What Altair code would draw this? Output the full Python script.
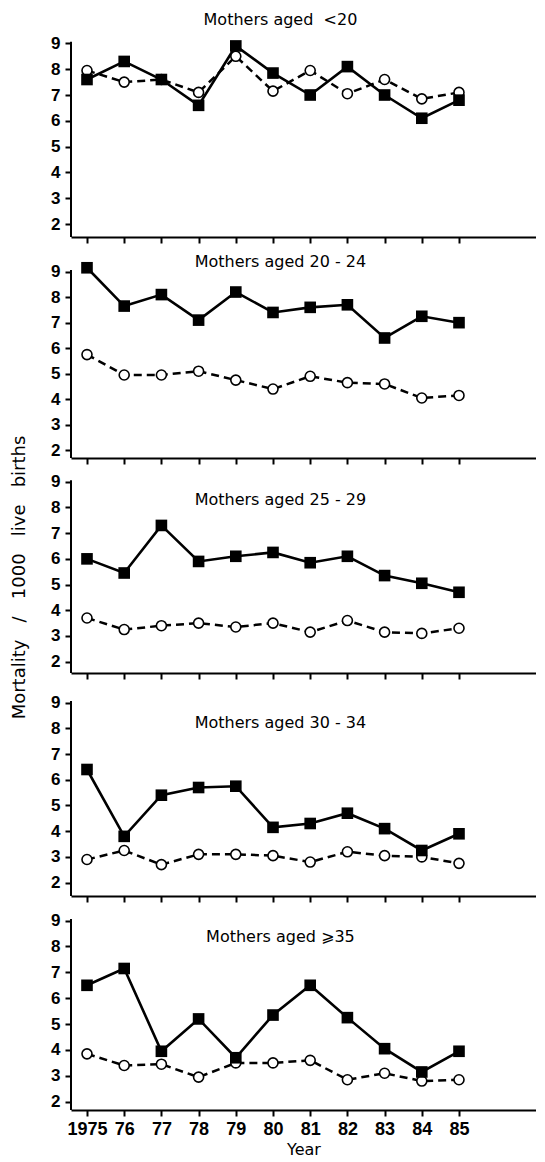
import altair as alt
import pandas as pd

# ---------------- data ----------------
years = list(range(1975, 1986))
year_labels = ["1975", "76", "77", "78", "79", "80", "81", "82", "83", "84", "85"]
y_ticks = [2, 3, 4, 5, 6, 7, 8, 9]

NB = "\u00a0"
panel_titles = [
    "Mothers aged" + NB + NB + "<20",
    "Mothers aged 20 - 24",
    "Mothers aged 25 - 29",
    "Mothers aged 30 - 34",
    "Mothers aged \u2a7e35",
]
y_title = (NB * 3).join(["Mortality", "/", "1000", "live", "births"])

# filled squares (solid line)
sq_lt20 = [7.6, 8.3, 7.6, 6.6, 8.9, 7.85, 7.0, 8.1, 7.0, 6.1, 6.8]
sq_20_24 = [9.15, 7.65, 8.1, 7.1, 8.2, 7.4, 7.6, 7.7, 6.4, 7.25, 7.0]
sq_25_29 = [6.0, 5.45, 7.3, 5.9, 6.1, 6.25, 5.85, 6.1, 5.35, 5.05, 4.7]
sq_30_34 = [6.4, 3.8, 5.4, 5.7, 5.75, 4.15, 4.3, 4.7, 4.1, 3.25, 3.9]
sq_ge35 = [6.5, 7.15, 3.95, 5.2, 3.7, 5.35, 6.5, 5.25, 4.05, 3.15, 3.95]

# open circles (dashed line)
ci_lt20 = [7.95, 7.5, 7.6, 7.1, 8.5, 7.15, 7.95, 7.05, 7.6, 6.85, 7.1]
ci_20_24 = [5.75, 4.95, 4.95, 5.1, 4.75, 4.4, 4.9, 4.65, 4.6, 4.05, 4.15]
ci_25_29 = [3.7, 3.25, 3.4, 3.5, 3.35, 3.5, 3.15, 3.6, 3.15, 3.1, 3.3]
ci_30_34 = [2.9, 3.25, 2.7, 3.1, 3.1, 3.05, 2.8, 3.2, 3.05, 3.0, 2.75]
ci_ge35 = [3.85, 3.4, 3.45, 2.95, 3.5, 3.5, 3.6, 2.85, 3.1, 2.8, 2.85]

squares = [sq_lt20, sq_20_24, sq_25_29, sq_30_34, sq_ge35]
circles = [ci_lt20, ci_20_24, ci_25_29, ci_30_34, ci_ge35]

# ---------------- layout (not data) ----------------
y_lo = [1.50, 1.70, 1.56, 1.48, 1.68]
y_hi = [10.37, 10.12, 9.69, 9.92, 9.72]
heights = [229, 215, 209, 217, 208]
title_y = [9.90, 9.38, 8.29, 8.21, 8.37]
axis_top = 9.06
x_lo, x_hi = 1974.57, 1987.07
title_x = 1980.2
PLOT_W = 465

TXT = "DejaVu Sans"
NUM = "Liberation Sans"

label_expr = "[" + ",".join("'%s'" % s for s in year_labels) + "][datum.value - %d]" % years[0]


def panel(i):
    last = i == len(squares) - 1
    df = pd.DataFrame({
        "year": years + years,
        "value": squares[i] + circles[i],
        "series": ["sq"] * len(years) + ["ci"] * len(years),
    })
    x_axis = alt.Axis(
        values=years, labels=last, labelExpr=label_expr, grid=False,
        domain=True, domainColor="black", domainWidth=2,
        ticks=True, tickColor="black", tickWidth=2, tickSize=6,
        labelFont=NUM, labelFontWeight="bold", labelFontSize=18, labelColor="black",
        labelPadding=4, labelFlush=False, labelOverlap=False,
        title="Year" if last else None, titleFont=TXT, titleFontWeight="normal",
        titleFontSize=16, titleColor="black", titlePadding=3,
    )
    y_kw = dict(
        values=y_ticks, tickCount=8, grid=False, domain=False,
        ticks=True, tickColor="black", tickWidth=2, tickSize=6,
        labelFont=NUM, labelFontWeight="bold", labelFontSize=17, labelColor="black",
        labelPadding=5, labelFlush=False, labelOverlap=False,
    )
    if i == 2:
        y_axis = alt.Axis(title=y_title, titleFont=TXT, titleFontWeight="normal",
                          titleFontSize=18, titleColor="black", titlePadding=22,
                          titleY=113, **y_kw)
    else:
        y_axis = alt.Axis(title=None, **y_kw)
    x = alt.X("year:Q", scale=alt.Scale(domain=[x_lo, x_hi], nice=False, zero=False), axis=x_axis)
    y = alt.Y("value:Q", scale=alt.Scale(domain=[y_lo[i], y_hi[i]], nice=False, zero=False), axis=y_axis)

    base = alt.Chart(df).encode(x=x, y=y)
    dashed = base.transform_filter(alt.datum.series == "ci").mark_line(
        color="black", strokeWidth=2.5, strokeDash=[8, 5])
    solid = base.transform_filter(alt.datum.series == "sq").mark_line(
        color="black", strokeWidth=2.6)
    circ = base.transform_filter(alt.datum.series == "ci").mark_point(
        shape="circle", filled=True, fill="white", stroke="black", strokeWidth=1.6,
        size=100, opacity=1)
    sq = base.transform_filter(alt.datum.series == "sq").mark_point(
        shape="square", filled=True, color="black", size=135, opacity=1)

    # y axis line (from bottom of scale up to just above the 9 tick)
    rule_df = pd.DataFrame({"year": [x_lo], "value": [y_lo[i]], "value2": [axis_top]})
    yline = alt.Chart(rule_df).mark_rule(color="black", strokeWidth=2).encode(
        x=x, y=y, y2="value2:Q")
    # panel title
    ttl_df = pd.DataFrame({"year": [title_x], "value": [title_y[i]], "t": [panel_titles[i]]})
    ttl = alt.Chart(ttl_df).mark_text(
        font=TXT, fontSize=16, color="black", align="center", baseline="middle").encode(
        x=x, y=y, text="t:N")

    return alt.layer(dashed, solid, circ, sq, yline, ttl).properties(width=PLOT_W, height=heights[i])


chart = alt.vconcat(*[panel(i) for i in range(5)], spacing=6, bounds="flush").properties(
    padding={"left": 2, "top": 0, "right": 0, "bottom": 0}, background="white"
).configure_view(stroke=None)

chart.save("out.html", embed_options={"renderer": "svg", "actions": False})
